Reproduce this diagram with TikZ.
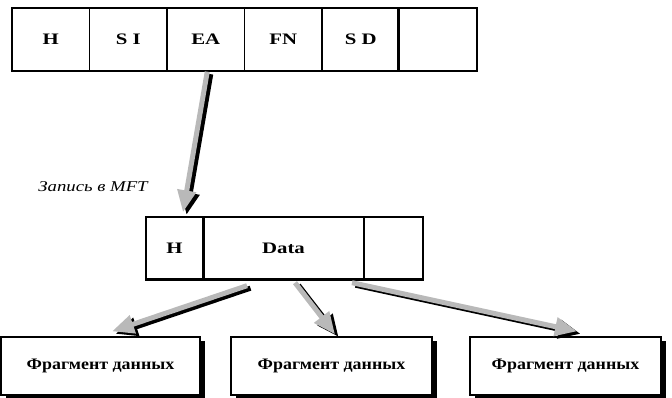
\documentclass[tikz,border=0pt]{standalone}
\usepackage{fontspec}
\setmainfont{Liberation Serif}
\usetikzlibrary{arrows.meta,shadows,calc}
\begin{document}
\begin{tikzpicture}[x=1pt,y=-1pt,
  cell/.style={draw=black,line width=1.4pt,fill=white,minimum width=77.5pt,minimum height=63pt,inner sep=0pt,
     font=\fontsize{16}{18}\selectfont\bfseries},
  mcell/.style={draw=black,line width=1.4pt,fill=white,minimum height=62pt,inner sep=0pt,
     font=\fontsize{16}{18}\selectfont\bfseries},
  frag/.style={draw=black,line width=1.3pt,fill=white,minimum height=58pt,inner sep=0pt,
     font=\fontsize{16}{18}\selectfont\bfseries,
     drop shadow={shadow xshift=5pt,shadow yshift=-4pt,fill=black,opacity=1}},
  garrow/.style={draw=gray!55,line width=5pt,-{Triangle[length=22pt,width=18pt]}},
  sarrow/.style={draw=black,line width=5pt,-{Triangle[length=22pt,width=18pt]}},
  lbl/.style={font=\fontsize{15}{17}\selectfont\itshape,inner sep=0pt}]
\useasboundingbox (0,0) rectangle (672,398);
% top record
\node[cell] (tH)  at (50.75,39.5) {\scalebox{1.3}[1]{H}};
\node[cell] (tSI) at (128.25,39.5) {\scalebox{1.3}[1]{S I}};
\node[cell] (tEA) at (205.75,39.5) {\scalebox{1.3}[1]{EA}};
\node[cell] (tFN) at (283.25,39.5) {\scalebox{1.3}[1]{FN}};
\node[cell] (tSD) at (360.75,39.5) {\scalebox{1.3}[1]{S D}};
\node[cell] (tE)  at (438.25,39.5) {};
\draw[line width=3pt] (tE.north west) -- (tE.south west);
% middle record
\node[mcell,minimum width=57pt] (mH) at (174.5,248) {\scalebox{1.3}[1]{H}};
\node[mcell,minimum width=161pt] (mD) at (283.5,248) {\scalebox{1.3}[1]{Data}};
\node[mcell,minimum width=59pt] (mE) at (393.5,248) {};
\draw[line width=3pt] (mH.south west) -- (mE.south east);
\draw[line width=2.4pt] (mH.north east) -- (mH.south east);
% fragments
\node[frag,minimum width=199pt] (f1) at (100.5,366) {\scalebox{1.12}[1]{Фрагмент данных}};
\node[frag,minimum width=201pt] (f2) at (331.5,366) {\scalebox{1.12}[1]{Фрагмент данных}};
\node[frag,minimum width=191pt] (f3) at (565.5,366) {\scalebox{1.12}[1]{Фрагмент данных}};
% label
\node[lbl] (lab) at (93,187) {\scalebox{1.25}[1]{Запись в MFT}};
% arrow end points
\coordinate (a1s) at ([xshift=1.5pt]tEA.south);
\coordinate (a1e) at ([xshift=8.5pt,yshift=4pt]mH.north);
\coordinate (a2s) at ([xshift=-36.5pt,yshift=-6pt]mD.south);
\coordinate (a2e) at ([xshift=11.5pt,yshift=5pt]f1.north);
\coordinate (a3s) at ([xshift=11.5pt,yshift=-3pt]mD.south);
\coordinate (a3e) at ([xshift=3.5pt,yshift=2pt]f2.north);
\coordinate (a4s) at ([xshift=68.5pt,yshift=-3pt]mD.south);
\coordinate (a4e) at ([xshift=11.5pt,yshift=5pt]f3.north);
% shadows
\foreach \s/\e in {a1s/a1e,a2s/a2e,a3s/a3e,a4s/a4e}
  \draw[sarrow] ($(\s)+(3.5,2.5)$) -- ($(\e)+(3.5,2.5)$);
% gray arrows
\foreach \s/\e in {a1s/a1e,a2s/a2e,a3s/a3e,a4s/a4e}
  \draw[garrow] (\s) -- (\e);
\end{tikzpicture}
\end{document}
